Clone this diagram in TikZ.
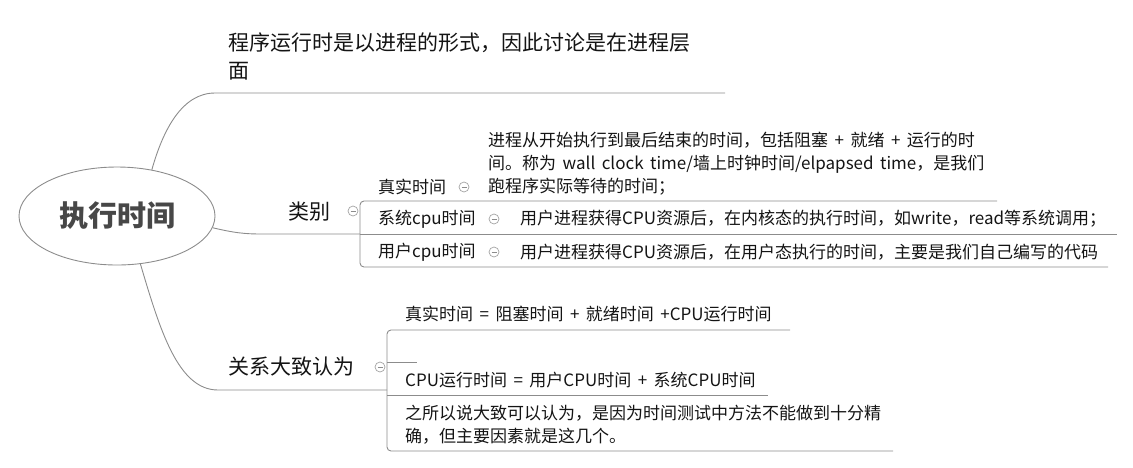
\documentclass[tikz,border=0pt]{standalone}
\usepackage{fontspec}
\setmainfont[WordSpace=1.7]{Noto Sans CJK SC}
\usepackage{tikz}
\usetikzlibrary{shapes.geometric}
\definecolor{linea}{RGB}{140,140,140}
\definecolor{texto}{RGB}{20,20,20}
\tikzstyle{topic} = [anchor=west, inner sep=0pt, text=texto, font=\fontsize{21}{28}\selectfont, align=left]
\tikzstyle{subtopic} = [anchor=west, inner sep=0pt, text=texto, font=\fontsize{17}{23}\selectfont, align=left]
\tikzstyle{branch} = [draw=linea, line width=0.9pt]
\tikzstyle{bracket} = [draw=linea, line width=0.9pt, rounded corners=4pt]
\tikzstyle{fold} = [circle, draw=linea!80, line width=0.7pt, minimum size=10pt, inner sep=0pt, path picture={\draw[linea] ([xshift=-2.5pt]path picture bounding box.center) -- ([xshift=2.5pt]path picture bounding box.center);}]

\begin{document}
\begin{tikzpicture}[x=1pt, y=-1pt]
                    \useasboundingbox (0,0) rectangle (1133,467);
                    \node (zhixing) [ellipse, draw=linea, line width=0.9pt, minimum width=196pt, minimum height=98pt, inner sep=0pt, text=black!72, font=\fontsize{29}{29}\selectfont\bfseries] at (117,216) {执行时间};

                    \node (chengxu) [topic] at (228,56) {程序运行时是以进程的形式，因此讨论是在进程层\\面};
                    \coordinate (chengxuA) at (215,93);
                    \coordinate (chengxuB) at (725,93);
                    \draw [branch] (zhixing.53) .. controls (163,130) and (182,93) .. (chengxuA) -- (chengxuB);

                    \node (leibie) [topic] at (288,212) {类别};
                    \node (leibiefold) [fold] at (353,211) {};
                    \coordinate (leibieA) at (262,234);
                    \coordinate (leibieB) at (360,234);
                    \draw [branch] (zhixing.-7) .. controls (235,233) and (245,234) .. (leibieA) -- (leibieB);

                    \node (zhenshi) [subtopic] at (378,187) {真实时间};
                    \node (zhenshifold) [fold] at (464,187) {};
                    \node (zhenshidesc) [subtopic] at (488,164) {进程从开始执行到最后结束的时间，包括阻塞 + 就绪 + 运行的时\\间。称为 wall clock time/墙上时钟时间/elpapsed time，是我们\\跑程序实际等待的时间；};
                    \node (xitong) [subtopic] at (378,219) {系统cpu时间};
                    \node (xitongfold) [fold] at (494,219) {};
                    \node (xitongdesc) [subtopic] at (520,219) {用户进程获得CPU资源后，在内核态的执行时间，如write，read等系统调用；};
                    \node (yonghu) [subtopic] at (378,252) {用户cpu时间};
                    \node (yonghufold) [fold] at (494,252) {};
                    \node (yonghudesc) [subtopic] at (520,252) {用户进程获得CPU资源后，在用户态执行的时间，主要是我们自己编写的代码};
                    \coordinate (zhenshiE) at (997,201);
                    \coordinate (xitongE) at (1117,234);
                    \coordinate (yonghuE) at (1108,267);
                    \draw [bracket] (zhenshiE) -- (360,201) -- (360,267) -- (yonghuE);
                    \draw [branch] (leibieB) -- (xitongE);

                    \node (guanxi) [topic] at (228,367) {关系大致认为};
                    \node (guanxifold) [fold] at (380,367) {};
                    \coordinate (guanxiA) at (218,390);
                    \coordinate (guanxiB) at (387,390);
                    \draw [branch] (zhixing.-64) .. controls (160,330) and (178,390) .. (guanxiA) -- (guanxiB);

                    \node (shijian) [subtopic] at (405,314) {真实时间 = 阻塞时间 + 就绪时间 +CPU运行时间};
                    \node (cpu) [subtopic] at (405,380) {CPU运行时间 = 用户CPU时间 + 系统CPU时间};
                    \node (dazhi) [subtopic] at (405,425) {之所以说大致可以认为，是因为时间测试中方法不能做到十分精\\确，但主要因素就是这几个。};
                    \coordinate (shijianE) at (790,330);
                    \coordinate (kongA) at (387,362);
                    \coordinate (kongE) at (417,362);
                    \coordinate (cpuA) at (387,395);
                    \coordinate (cpuE) at (768,395);
                    \coordinate (dazhiE) at (893,451);
                    \draw [bracket] (shijianE) -- (387,330) -- (387,451) -- (dazhiE);
                    \draw [branch] (kongA) -- (kongE);
                    \draw [branch] (cpuA) -- (cpuE);
                \end{tikzpicture}
\end{document}
